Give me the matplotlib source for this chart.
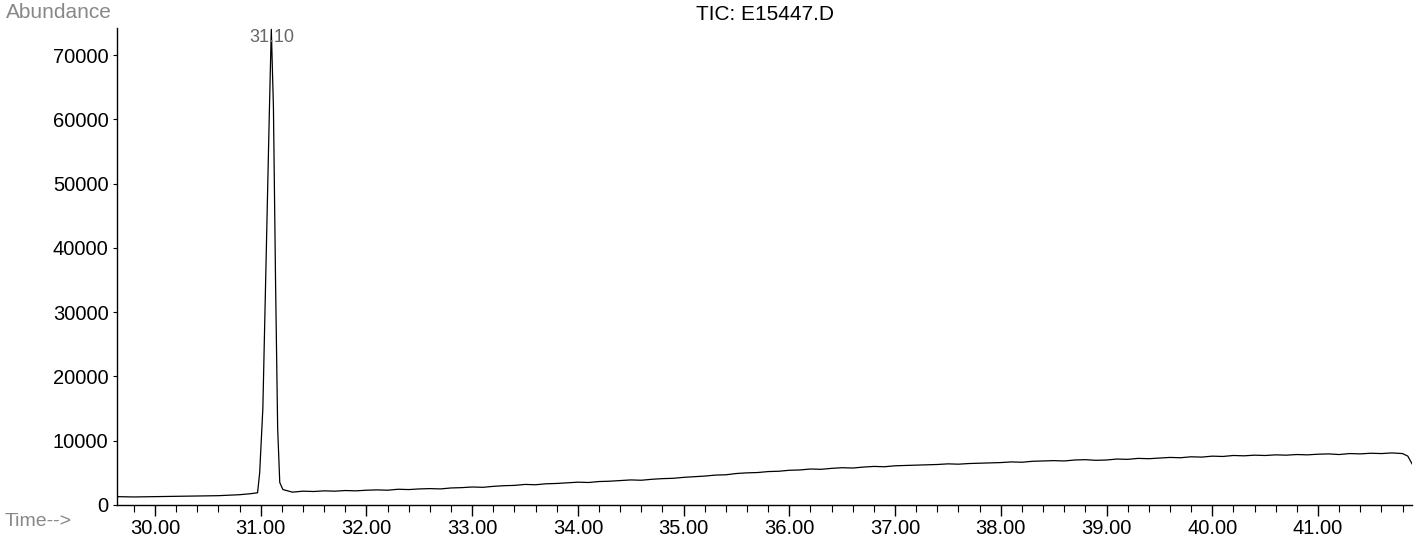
import matplotlib.pyplot as plt
from matplotlib.ticker import MultipleLocator

plt.rcParams['font.family'] = ['Liberation Sans', 'DejaVu Sans']

# retention time (min) and abundance
baseline_time = [29.64, 29.8, 30.0, 30.2, 30.4, 30.6, 30.8, 30.9, 30.95]
baseline_abund = [1300, 1250, 1300, 1350, 1400, 1450, 1600, 1750, 1850]

peak_time = [30.97, 30.99, 31.02, 31.04, 31.06, 31.08, 31.10, 31.12, 31.14, 31.16, 31.18, 31.21]
peak_abund = [1900, 5000, 15000, 30000, 45000, 60000, 74000, 62000, 35000, 12000, 3500, 2400]

tail_time = [31.3, 31.4, 31.5, 31.6, 31.7, 31.8, 31.9, 32.0, 32.1, 32.2, 32.3,
             32.4, 32.5, 32.6, 32.7, 32.8, 32.9, 33.0, 33.1, 33.2, 33.3, 33.4, 33.5,
             33.6, 33.7, 33.8, 33.9, 34.0, 34.1, 34.2, 34.3, 34.4, 34.5, 34.6, 34.7,
             34.8, 34.9, 35.0, 35.1, 35.2, 35.3, 35.4, 35.5, 35.6, 35.7, 35.8, 35.9,
             36.0, 36.1, 36.2, 36.3, 36.4, 36.5, 36.6, 36.7, 36.8, 36.9, 37.0, 37.1,
             37.2, 37.3, 37.4, 37.5, 37.6, 37.7, 37.8, 37.9, 38.0, 38.1, 38.2, 38.3,
             38.4, 38.5, 38.6, 38.7, 38.8, 38.9, 39.0, 39.1, 39.2, 39.3, 39.4, 39.5,
             39.6, 39.7, 39.8, 39.9, 40.0, 40.1, 40.2, 40.3, 40.4, 40.5, 40.6, 40.7,
             40.8, 40.9, 41.0, 41.1, 41.2, 41.3, 41.4, 41.5, 41.6, 41.7, 41.8, 41.85, 41.89]
tail_abund = [2000, 2150, 2100, 2200, 2150, 2250, 2200, 2300, 2350, 2300, 2450,
              2400, 2500, 2550, 2500, 2650, 2700, 2800, 2750, 2900, 3000, 3050, 3200,
              3150, 3300, 3350, 3450, 3550, 3500, 3650, 3700, 3800, 3900, 3850, 4000,
              4100, 4150, 4300, 4400, 4500, 4650, 4700, 4900, 5000, 5050, 5200, 5250,
              5400, 5450, 5600, 5550, 5700, 5800, 5750, 5900, 6000, 5950, 6100, 6150,
              6200, 6250, 6300, 6400, 6350, 6450, 6500, 6550, 6600, 6700, 6650, 6800,
              6850, 6900, 6850, 7000, 7050, 6950, 7000, 7150, 7100, 7250, 7200, 7300,
              7400, 7350, 7500, 7450, 7600, 7550, 7700, 7650, 7750, 7700, 7800, 7750,
              7850, 7800, 7900, 7950, 7850, 8000, 7950, 8050, 8000, 8100, 8000, 7600, 6400]

peak_label = "31.10"
y_ticks = [0, 10000, 20000, 30000, 40000, 50000, 60000, 70000]
x_ticks = [30, 31, 32, 33, 34, 35, 36, 37, 38, 39, 40, 41]

times = baseline_time + peak_time + tail_time
abund = baseline_abund + peak_abund + tail_abund

fig = plt.figure(figsize=(14.21, 5.44), dpi=100)
ax = fig.add_axes([0.0823, 0.0717, 0.9114, 0.8768])

ax.plot(times, abund, color='black', linewidth=0.9)

ax.set_xlim(29.64, 41.89)
ax.set_ylim(0, 74200)

ax.set_xticks(x_ticks)
ax.set_xticklabels([f"{t:.2f}" for t in x_ticks])
ax.xaxis.set_minor_locator(MultipleLocator(0.2))
ax.set_yticks(y_ticks)
ax.set_yticklabels([str(v) for v in y_ticks])

ax.tick_params(axis='x', which='major', direction='out', length=8, width=1,
               labelsize=14.5, pad=2)
ax.tick_params(axis='x', which='minor', direction='out', length=5, width=0.8)
ax.tick_params(axis='y', direction='out', length=3, width=0.8, labelsize=14.5, pad=3)

for side in ['top', 'right']:
    ax.spines[side].set_visible(False)
ax.spines['left'].set_linewidth(1.0)
ax.spines['bottom'].set_linewidth(1.0)

# peak annotation and instrument labels
fig.text(272 / 1421, 1 - 38 / 544, peak_label, ha='center', va='center',
         fontsize=13, color='#666666')
fig.text(765 / 1421, 1 - 14 / 544, "TIC: E15447.D", ha='center', va='center', fontsize=15)
fig.text(0.004, 1 - 13 / 544, "Abundance", ha='left', va='center', fontsize=15, color='#888888')
fig.text(0.003, 1 - 522 / 544, "Time-->", ha='left', va='center', fontsize=14, color='#888888')

fig.savefig("out.png", dpi=100)
